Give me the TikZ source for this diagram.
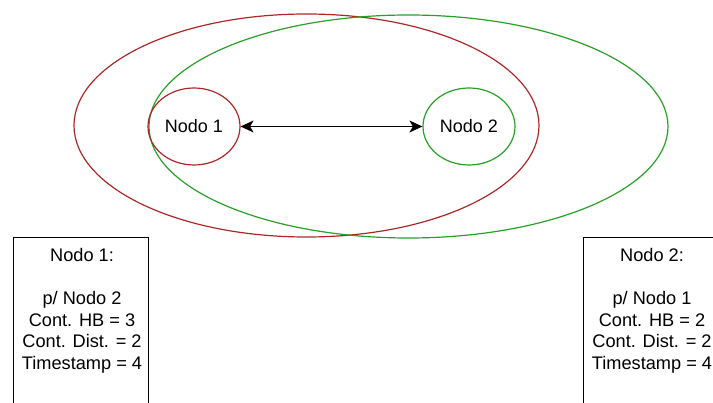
\documentclass[tikz,border=0pt]{standalone}
\usepackage{fontspec}
\setmainfont{Liberation Sans}
\usetikzlibrary{arrows.meta,shapes.geometric}
\definecolor{myred}{RGB}{172,40,40}
\definecolor{mygreen}{RGB}{40,160,40}
\begin{document}
\begin{tikzpicture}[x=1pt,y=-1pt,
  big/.style={draw, ellipse, line width=1.2pt, inner sep=0pt},
  nodo/.style={draw, ellipse, line width=1.2pt, minimum width=92pt, minimum height=77pt, inner sep=0pt, font=\fontsize{18}{21}\selectfont},
  infobox/.style={draw, line width=1.2pt, minimum width=135pt, minimum height=200pt, anchor=north west, inner sep=0pt},
  infotext/.style={align=center, anchor=north, font=\fontsize{18.2}{21.6}\selectfont, inner sep=0pt}]
\useasboundingbox (0,0) rectangle (713,403);
\node[big, draw=myred, minimum width=465pt, minimum height=223pt] (redbig) at (306.5,125.5) {};
\node[big, draw=mygreen, minimum width=519pt, minimum height=223pt] (greenbig) at (408.5,126.5) {};
\node[nodo, draw=myred] (n1) at (194,126.5) {Nodo 1};
\node[nodo, draw=mygreen] (n2) at (469,126.5) {Nodo 2};
\draw[{Stealth[length=13pt,width=12pt,inset=3.5pt]}-{Stealth[length=13pt,width=12pt,inset=3.5pt]}, line width=1.2pt] (n1) -- (n2);
\node[infobox] (b1) at (13,237) {};
\node[infobox] (b2) at (583,237) {};
\node[infotext] (t1) at (82,248) {Nodo 1:\\[21.6pt]p/ Nodo 2\\Cont. HB = 3\\Cont. Dist. = 2\\Timestamp = 4};
\node[infotext] (t2) at (652,248) {Nodo 2:\\[21.6pt]p/ Nodo 1\\Cont. HB = 2\\Cont. Dist. = 2\\Timestamp = 4};
\end{tikzpicture}
\end{document}
